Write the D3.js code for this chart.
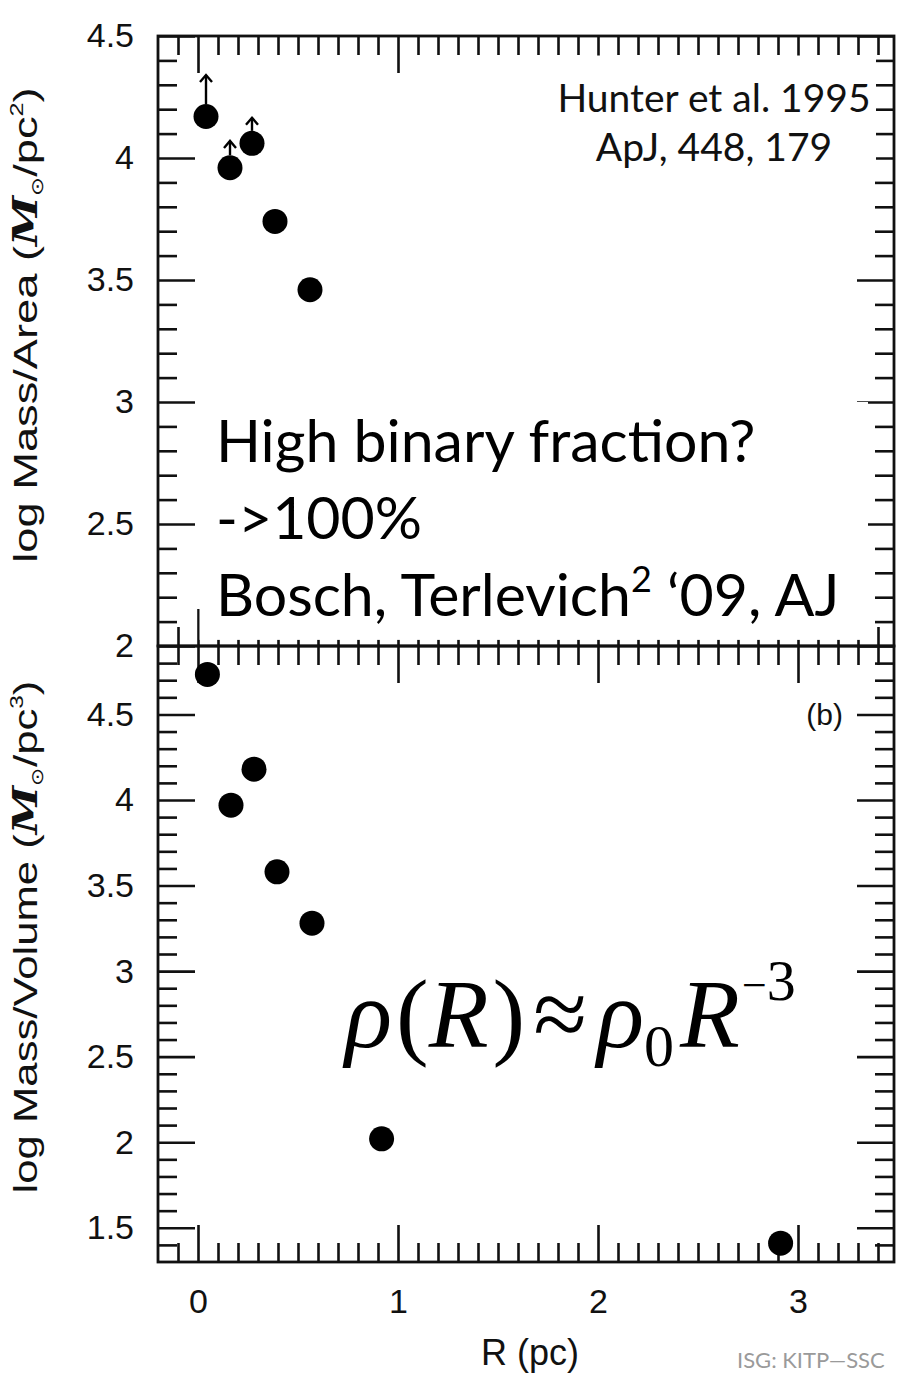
<!DOCTYPE html>
<html>
<head>
<meta charset="utf-8">
<script src="https://cdn.jsdelivr.net/npm/d3@7"></script>
<style>
  body { margin: 0; background: #fff; }
  svg { display: block; }
  .tick line { stroke: #111; stroke-width: 2.6; }
  .tick text { font-family: "Liberation Sans", Arial, sans-serif; font-size: 34px; fill: #111; }
</style>
</head>
<body>
<svg id="chart" width="900" height="1377"></svg>
<script>
// tick values
const xMajor = [0, 1, 2, 3];
const topMajor = [2, 2.5, 3, 3.5, 4, 4.5];
const botMajor = [1.5, 2, 2.5, 3, 3.5, 4, 4.5];

// panel (a): log Mass/Area, first three points are lower limits
const topR = [0.04, 0.16, 0.27, 0.385, 0.56];
const topLogArea = [4.17, 3.96, 4.06, 3.74, 3.46];
const topLimitTip = [4.34, 4.07, 4.165, null, null];

// panel (b): log Mass/Volume
const botR = [0.047, 0.165, 0.28, 0.395, 0.57, 0.918, 2.913];
const botLogVol = [4.734, 3.97, 4.18, 3.58, 3.28, 2.02, 1.41];

const svg = d3.select('#chart');
svg.append('rect').attr('width', 900).attr('height', 1377).attr('fill', '#fff');

const x = d3.scaleLinear().domain([-0.2, 3.48]).range([158, 894]);
const yTop = d3.scaleLinear().domain([2, 4.5]).range([646, 36]);
const yBot = d3.scaleLinear().domain([1.3, 4.9]).range([1262, 646]);

const xMinor = d3.range(-1, 35).map(i => i / 10).filter(v => !xMajor.includes(v));
const topMinor = d3.range(21, 45).map(i => i / 10).filter(v => !topMajor.includes(v));
const botMinor = d3.range(14, 49).map(i => i / 10).filter(v => !botMajor.includes(v));

const BIG = 37, SMALL = 19;

function addAxis(axisFn, scale, values, size, tx, ty, labels, pad) {
  const ax = axisFn(scale).tickValues(values)
    .tickSizeInner(-size).tickSizeOuter(0)
    .tickPadding(pad || 0)
    .tickFormat(labels ? (d => String(d)) : '');
  const g = svg.append('g').attr('transform', `translate(${tx},${ty})`).call(ax);
  g.select('.domain').remove();
  return g;
}

function panelAxes(y, major, minor, showX) {
  const [y0, y1] = y.range();   // bottom, top
  addAxis(d3.axisLeft, y, major, BIG, x.range()[0], 0, true, 24);
  addAxis(d3.axisLeft, y, minor, SMALL, x.range()[0], 0, false);
  addAxis(d3.axisRight, y, major, BIG, x.range()[1], 0, false);
  addAxis(d3.axisRight, y, minor, SMALL, x.range()[1], 0, false);
  addAxis(d3.axisTop, x, xMajor, BIG, 0, y1, false);
  addAxis(d3.axisTop, x, xMinor, SMALL, 0, y1, false);
  addAxis(d3.axisBottom, x, xMajor, BIG, 0, y0, showX, 27);
  addAxis(d3.axisBottom, x, xMinor, SMALL, 0, y0, false);
  svg.append('rect')
    .attr('x', x.range()[0]).attr('y', y1)
    .attr('width', x.range()[1] - x.range()[0]).attr('height', y0 - y1)
    .attr('fill', 'none').attr('stroke', '#111').attr('stroke-width', 2.8);
}

panelAxes(yTop, topMajor, topMinor, false);
panelAxes(yBot, botMajor, botMinor, true);

// white boxes behind the slide text
function whiteBox(x0, x1, yA, yB, ys) {
  svg.append('rect')
    .attr('x', x(x0)).attr('width', x(x1) - x(x0))
    .attr('y', ys(yB)).attr('height', ys(yA) - ys(yB))
    .attr('fill', '#fff');
}
whiteBox(1.71, 3.39, 3.92, 4.42, yTop);
whiteBox(0.008, 3.35, 2.025, 3.0, yTop);

// points
const topPts = topR.map((r, i) => ({ r, v: topLogArea[i], tip: topLimitTip[i] }));
const botPts = botR.map((r, i) => ({ r, v: botLogVol[i] }));
const RAD = 12.5;

svg.append('g').selectAll('circle').data(topPts).join('circle')
  .attr('cx', d => x(d.r)).attr('cy', d => yTop(d.v)).attr('r', RAD).attr('fill', '#000');

const lim = svg.append('g').attr('stroke', '#000').attr('stroke-width', 2.4).attr('fill', 'none')
  .selectAll('g').data(topPts.filter(d => d.tip !== null)).join('g');
lim.append('line')
  .attr('x1', d => x(d.r)).attr('x2', d => x(d.r))
  .attr('y1', d => yTop(d.v) - RAD).attr('y2', d => yTop(d.tip));
lim.append('path')
  .attr('d', d => {
    const cx = x(d.r), ty = yTop(d.tip);
    return `M${cx - 6},${ty + 7}L${cx},${ty}L${cx + 6},${ty + 7}`;
  });

svg.append('g').selectAll('circle').data(botPts).join('circle')
  .attr('cx', d => x(d.r)).attr('cy', d => yBot(d.v)).attr('r', RAD).attr('fill', '#000');

// axis titles (stretched along their length like the scanned figure)
function yTitle(cy, word, power, len) {
  const t = svg.append('text')
    .attr('text-anchor', 'middle')
    .attr('font-family', '"Liberation Sans", Arial, sans-serif')
    .attr('font-size', 34).attr('fill', '#111');
  t.append('tspan').text(`log Mass/${word} (`);
  t.append('tspan').attr('font-family', '"DejaVu Serif", serif').attr('font-weight', 'bold')
    .attr('font-style', 'italic').text('M');
  t.append('tspan').attr('font-size', 17).attr('dy', 6).text('⊙');
  t.append('tspan').attr('dy', -6).text('/pc');
  t.append('tspan').attr('font-size', 19).attr('dy', -14).text(power);
  t.append('tspan').attr('dy', 14).text(')');
  const w = t.node().getComputedTextLength();
  t.attr('transform', `translate(37,${cy}) rotate(-90) scale(${len / w},1)`);
}
yTitle(325, 'Area', '2', 475);
yTitle(937, 'Volume', '3', 512);

svg.append('text')
  .attr('x', 530).attr('y', 1365).attr('text-anchor', 'middle')
  .attr('font-family', '"Liberation Sans", Arial, sans-serif')
  .attr('font-size', 36).attr('fill', '#111').text('R (pc)');

svg.append('text')
  .attr('x', 843).attr('y', 725).attr('text-anchor', 'end')
  .attr('font-family', '"Liberation Sans", Arial, sans-serif')
  .attr('font-size', 30).attr('fill', '#111').text('(b)');

// slide annotations
const sans = 'Lato, "Open Sans", sans-serif';
svg.append('text').attr('x', 714).attr('y', 112).attr('text-anchor', 'middle')
  .attr('font-family', sans).attr('font-size', 39).attr('fill', '#111').text('Hunter et al. 1995');
svg.append('text').attr('x', 714).attr('y', 161).attr('text-anchor', 'middle')
  .attr('font-family', sans).attr('font-size', 39).attr('fill', '#111').text('ApJ, 448, 179');

const notes = ['High binary fraction?', '->100%'];
notes.forEach((s, i) => {
  svg.append('text').attr('x', 216).attr('y', 462 + i * 77)
    .attr('font-family', sans).attr('font-size', 59).attr('fill', '#000').text(s);
});
const b = svg.append('text').attr('x', 216).attr('y', 616)
  .attr('font-family', sans).attr('font-size', 59).attr('fill', '#000');
b.append('tspan').text('Bosch, Terlevich');
b.append('tspan').attr('font-size', 36).attr('dy', -24).text('2');
b.append('tspan').attr('dy', 24).text(' ‘09, AJ');

// formula, laid out left to right
const f = svg.append('text').attr('x', 345).attr('y', 1047)
  .attr('font-family', '"Liberation Serif", "Times New Roman", serif')
  .attr('font-size', 98).attr('fill', '#000');
const parts = [
  { s: 'ρ', it: true },
  { s: '(', dx: 4 },
  { s: 'R', it: true },
  { s: ')', dx: 4 },
  { s: '≈', dx: 8 },
  { s: 'ρ', it: true, dx: 10 },
  { s: '0', fs: 60, y: 1066 },
  { s: 'R', it: true, dx: 6, y: 1047 },
  { s: '−', fs: 44, dx: 2, y: 1000 },
  { s: '3', fs: 58, y: 1000 }
];
parts.forEach(p => {
  f.append('tspan')
    .attr('dx', p.dx || null).attr('y', p.y || null)
    .attr('font-style', p.it ? 'italic' : null)
    .attr('font-size', p.fs || null).text(p.s);
});

svg.append('text').attr('x', 737).attr('y', 1368)
  .attr('font-family', sans).attr('font-size', 22).attr('fill', '#9a9a9a').text('ISG: KITP—SSC');
</script>
</body>
</html>
